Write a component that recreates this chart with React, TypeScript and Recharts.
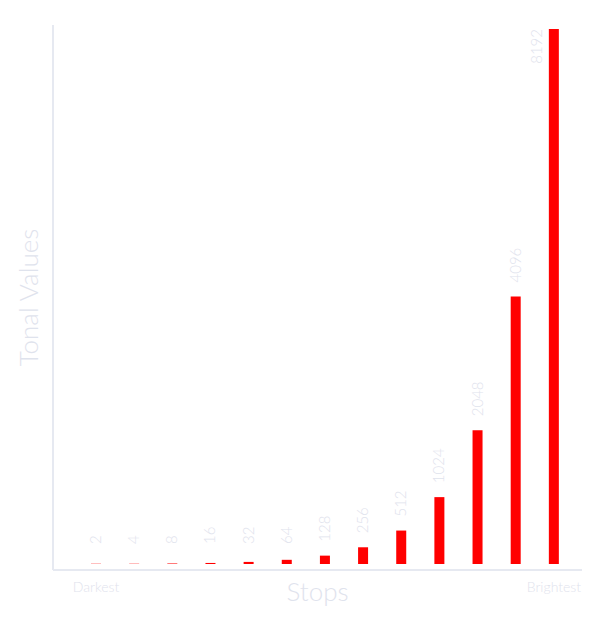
import React from 'react';
import { BarChart, Bar, XAxis, YAxis, LabelList, Label } from 'recharts';

const stops = [1, 2, 3, 4, 5, 6, 7, 8, 9, 10, 11, 12, 13];
const tonalValues = [2, 4, 8, 16, 32, 64, 128, 256, 512, 1024, 2048, 4096, 8192];
const endLabels = ['Darkest', 'Brightest'];

const data = stops.map((stop, i) => ({ stop, value: tonalValues[i] }));

const FONT = 'Lato, "Open Sans", sans-serif';
const TEXT = '#dfe3ed';
const AXIS = '#e6e9f1';

// value labels sit above each bar, rotated; they never drop below a common line,
// and the tallest one moves beside its bar when there's no room on top
const ValueLabel = (props: any) => {
  const { x, y, width, value } = props;
  const cx = x + width / 2;
  const estLen = String(value).length * 8;
  let ty = Math.min(y - 14, 544);
  let tx = cx - 1;
  let anchor = 'start';
  if (ty - estLen < 20) {
    ty = y;
    tx = cx - 18;
    anchor = 'end';
  }
  return (
    <text
      x={tx}
      y={ty}
      transform={`rotate(-90 ${tx} ${ty})`}
      textAnchor={anchor}
      dominantBaseline="central"
      fill={TEXT}
      fontSize={15}
      fontFamily={FONT}
      fontWeight={300}
    >
      {value}
    </text>
  );
};

// sub-pixel bars: draw a 1px sliver, faded by how much of the pixel they cover
const PlainBar = (props: any) => {
  const { x, y, width, height, fill } = props;
  const h = Math.max(height, 1);
  const op = Math.min(1, Math.max(height, 0.25));
  return <rect x={x} y={y + height - h} width={width} height={h} fill={fill} fillOpacity={op} />;
};

export default function App() {
  const last = stops.length - 1;
  return (
    <div style={{ position: 'absolute', left: 0, top: 0, background: '#fff' }}>
      <BarChart
        width={600}
        height={617}
        data={data}
        margin={{ top: 25, right: 18, bottom: 0, left: 0 }}
      >
        <XAxis
          dataKey="stop"
          interval={0}
          height={47}
          padding={{ left: 24, right: 9 }}
          tickLine={false}
          axisLine={{ stroke: AXIS, strokeWidth: 2 }}
          tickFormatter={(_v: any, i: number) => (i === 0 ? endLabels[0] : i === last ? endLabels[1] : '')}
          tick={{ fill: TEXT, fontSize: 14, fontFamily: FONT, fontWeight: 300, dy: 4 }}
        >
          <Label
            value="Stops"
            content={({ viewBox }: any) => (
              <text
                x={viewBox.x + viewBox.width / 2}
                y={viewBox.y + 31}
                textAnchor="middle"
                fill={TEXT}
                fontSize={26}
                fontFamily={FONT}
                fontWeight={300}
              >
                Stops
              </text>
            )}
          />
        </XAxis>
        <YAxis
          width={53}
          domain={[0, 8192]}
          padding={{ top: 4, bottom: 6 }}
          tick={false}
          tickLine={false}
          axisLine={{ stroke: AXIS, strokeWidth: 2 }}
        >
          <Label
            value="Tonal Values"
            content={({ viewBox }: any) => {
              const lx = 28;
              const ly = viewBox.y + viewBox.height / 2;
              return (
                <text
                  x={lx}
                  y={ly}
                  transform={`rotate(-90 ${lx} ${ly})`}
                  textAnchor="middle"
                  dominantBaseline="central"
                  fill={TEXT}
                  fontSize={26}
                  fontFamily={FONT}
                  fontWeight={300}
                >
                  Tonal Values
                </text>
              );
            }}
          />
        </YAxis>
        <Bar dataKey="value" fill="#ff0000" barSize={10} shape={PlainBar} isAnimationActive={false}>
          <LabelList dataKey="value" content={ValueLabel} />
        </Bar>
      </BarChart>
    </div>
  );
}
